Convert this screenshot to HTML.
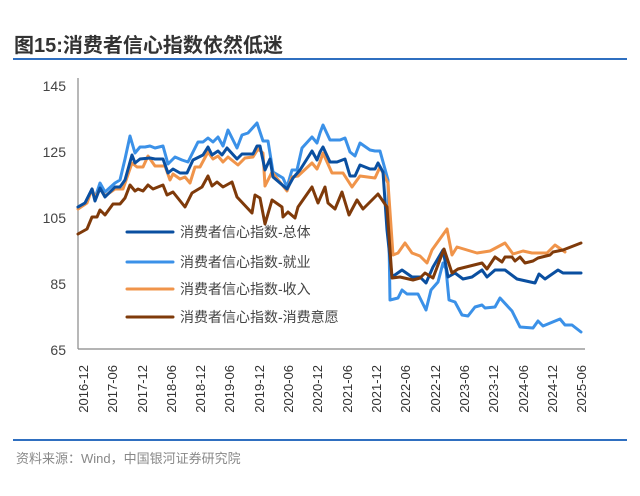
<!DOCTYPE html>
<html><head><meta charset="utf-8"><style>
body{margin:0;background:#fff;width:640px;height:496px;overflow:hidden}
svg{display:block}
</style></head><body>
<svg width="640" height="496" xmlns="http://www.w3.org/2000/svg" font-family="Liberation Sans, Noto Sans CJK SC, sans-serif">
<text x="14" y="52" font-size="20" font-weight="bold" fill="#333">图15:消费者信心指数依然低迷</text>
<line x1="13" y1="59" x2="627" y2="59" stroke="#2f6fc0" stroke-width="2"/>
<g font-size="14" fill="#444" text-anchor="end">
<text x="66" y="91">145</text><text x="66" y="157">125</text><text x="66" y="223">105</text><text x="66" y="289">85</text><text x="66" y="355">65</text>
</g>
<line x1="78" y1="78" x2="78" y2="349" stroke="#888" stroke-width="1.2"/>
<line x1="78" y1="349" x2="585" y2="349" stroke="#888" stroke-width="1.2"/>
<g font-size="13" fill="#333" text-anchor="end">
<text transform="translate(88,365) rotate(-90)">2016-12</text>
<text transform="translate(117,365) rotate(-90)">2017-06</text>
<text transform="translate(147,365) rotate(-90)">2017-12</text>
<text transform="translate(176,365) rotate(-90)">2018-06</text>
<text transform="translate(205,365) rotate(-90)">2018-12</text>
<text transform="translate(234,365) rotate(-90)">2019-06</text>
<text transform="translate(264,365) rotate(-90)">2019-12</text>
<text transform="translate(293,365) rotate(-90)">2020-06</text>
<text transform="translate(322,365) rotate(-90)">2020-12</text>
<text transform="translate(352,365) rotate(-90)">2021-06</text>
<text transform="translate(381,365) rotate(-90)">2021-12</text>
<text transform="translate(410,365) rotate(-90)">2022-06</text>
<text transform="translate(440,365) rotate(-90)">2022-12</text>
<text transform="translate(469,365) rotate(-90)">2023-06</text>
<text transform="translate(498,365) rotate(-90)">2023-12</text>
<text transform="translate(528,365) rotate(-90)">2024-06</text>
<text transform="translate(557,365) rotate(-90)">2024-12</text>
<text transform="translate(586,365) rotate(-90)">2025-06</text>
</g>
<g fill="none" stroke-width="3" stroke-linejoin="round" stroke-linecap="round">
<polyline stroke="#3b91e8" points="78,207 85,203 92,189 95,198 100,183 105,192 115,183 120,180 125,159 130,136 135,153 140,147 145,147 150,146 155,148 163,146 168,164 175,157 182,160 188,162 198,142 203,142 208,138 213,142 218,137 223,146 228,130 237,148 242,135 248,133 257,123 263,141 268,141 273,172 283,178 287,187 292,170 297,170 302,148 312,137 317,143 320,133 323,125 330,140 340,140 345,138 350,152 355,156 360,143 370,150 375,151 380,151 388,180 390,300 398,298 402,290 407,294 418,294 426,310 431,290 438,282 443,263 446,269 449,300 455,302 462,315 468,316 475,307 482,305 485,308 495,307 500,298 512,311 520,327 533,328 538,321 543,326 560,319 565,325 572,325 581,332"/>
<polyline stroke="#f0944a" points="78,209 87,203 92,189 95,198 100,189 105,196 115,189 123,189 132,163 137,167 143,167 148,156 155,166 165,166 170,180 173,174 180,179 185,177 190,183 195,167 200,167 208,152 213,159 218,156 223,162 228,157 238,165 245,158 253,157 258,149 263,153 265,186 272,172 287,191 292,177 298,176 312,163 317,169 320,162 323,153 332,173 343,173 352,187 360,176 375,178 380,167 388,183 393,255 398,253 405,243 412,253 420,256 427,263 432,250 447,229 452,255 457,247 477,253 490,251 505,243 513,254 523,251 532,253 547,253 555,245 565,252"/>
<polyline stroke="#0a4fa0" points="78,207 85,203 92,189 95,201 100,188 105,197 115,187 120,187 125,180 132,155 135,163 140,159 150,158 155,159 163,159 168,173 173,169 180,173 187,173 193,160 203,155 208,147 212,155 218,151 222,155 227,148 237,159 242,154 253,154 257,146 260,146 265,170 270,159 273,177 287,189 293,178 300,170 312,151 317,160 320,152 323,147 330,162 337,162 345,159 350,176 355,176 360,165 370,169 375,169 378,163 383,172 387,230 392,277 402,270 412,277 420,277 426,283 433,267 443,250 448,277 455,273 463,279 472,277 482,270 487,277 495,270 505,270 517,279 535,283 539,274 545,279 558,270 563,273 581,273"/>
<polyline stroke="#7f3a0a" points="78,234 87,229 92,217 97,217 100,210 105,215 113,204 120,204 125,198 130,185 135,191 138,189 143,191 148,185 153,189 163,185 167,195 173,192 185,207 192,193 202,187 208,176 212,186 217,182 223,187 232,182 237,197 252,213 255,195 260,198 265,224 272,200 282,207 283,217 288,212 295,218 298,207 312,187 318,203 325,187 328,203 335,209 342,192 349,215 357,200 363,209 378,194 387,207 392,278 400,277 413,280 420,278 425,273 433,278 444,249 452,273 458,269 482,263 487,269 495,257 502,262 505,257 512,257 515,261 520,257 525,263 533,261 538,258 550,255 553,252 563,250 581,243"/>
</g>
<g stroke-width="3" stroke-linecap="round">
<line x1="127" y1="232" x2="173" y2="232" stroke="#0a4fa0"/>
<line x1="127" y1="262" x2="173" y2="262" stroke="#3b91e8"/>
<line x1="127" y1="289" x2="173" y2="289" stroke="#f0944a"/>
<line x1="127" y1="317" x2="173" y2="317" stroke="#7f3a0a"/>
</g>
<g font-size="14" fill="#444">
<text x="180" y="237">消费者信心指数-总体</text>
<text x="180" y="267">消费者信心指数-就业</text>
<text x="180" y="294">消费者信心指数-收入</text>
<text x="180" y="322">消费者信心指数-消费意愿</text>
</g>
<line x1="13" y1="440" x2="627" y2="440" stroke="#2f6fc0" stroke-width="2"/>
<text x="16" y="463" font-size="13" fill="#888">资料来源：Wind，中国银河证券研究院</text>
</svg>
</body></html>
